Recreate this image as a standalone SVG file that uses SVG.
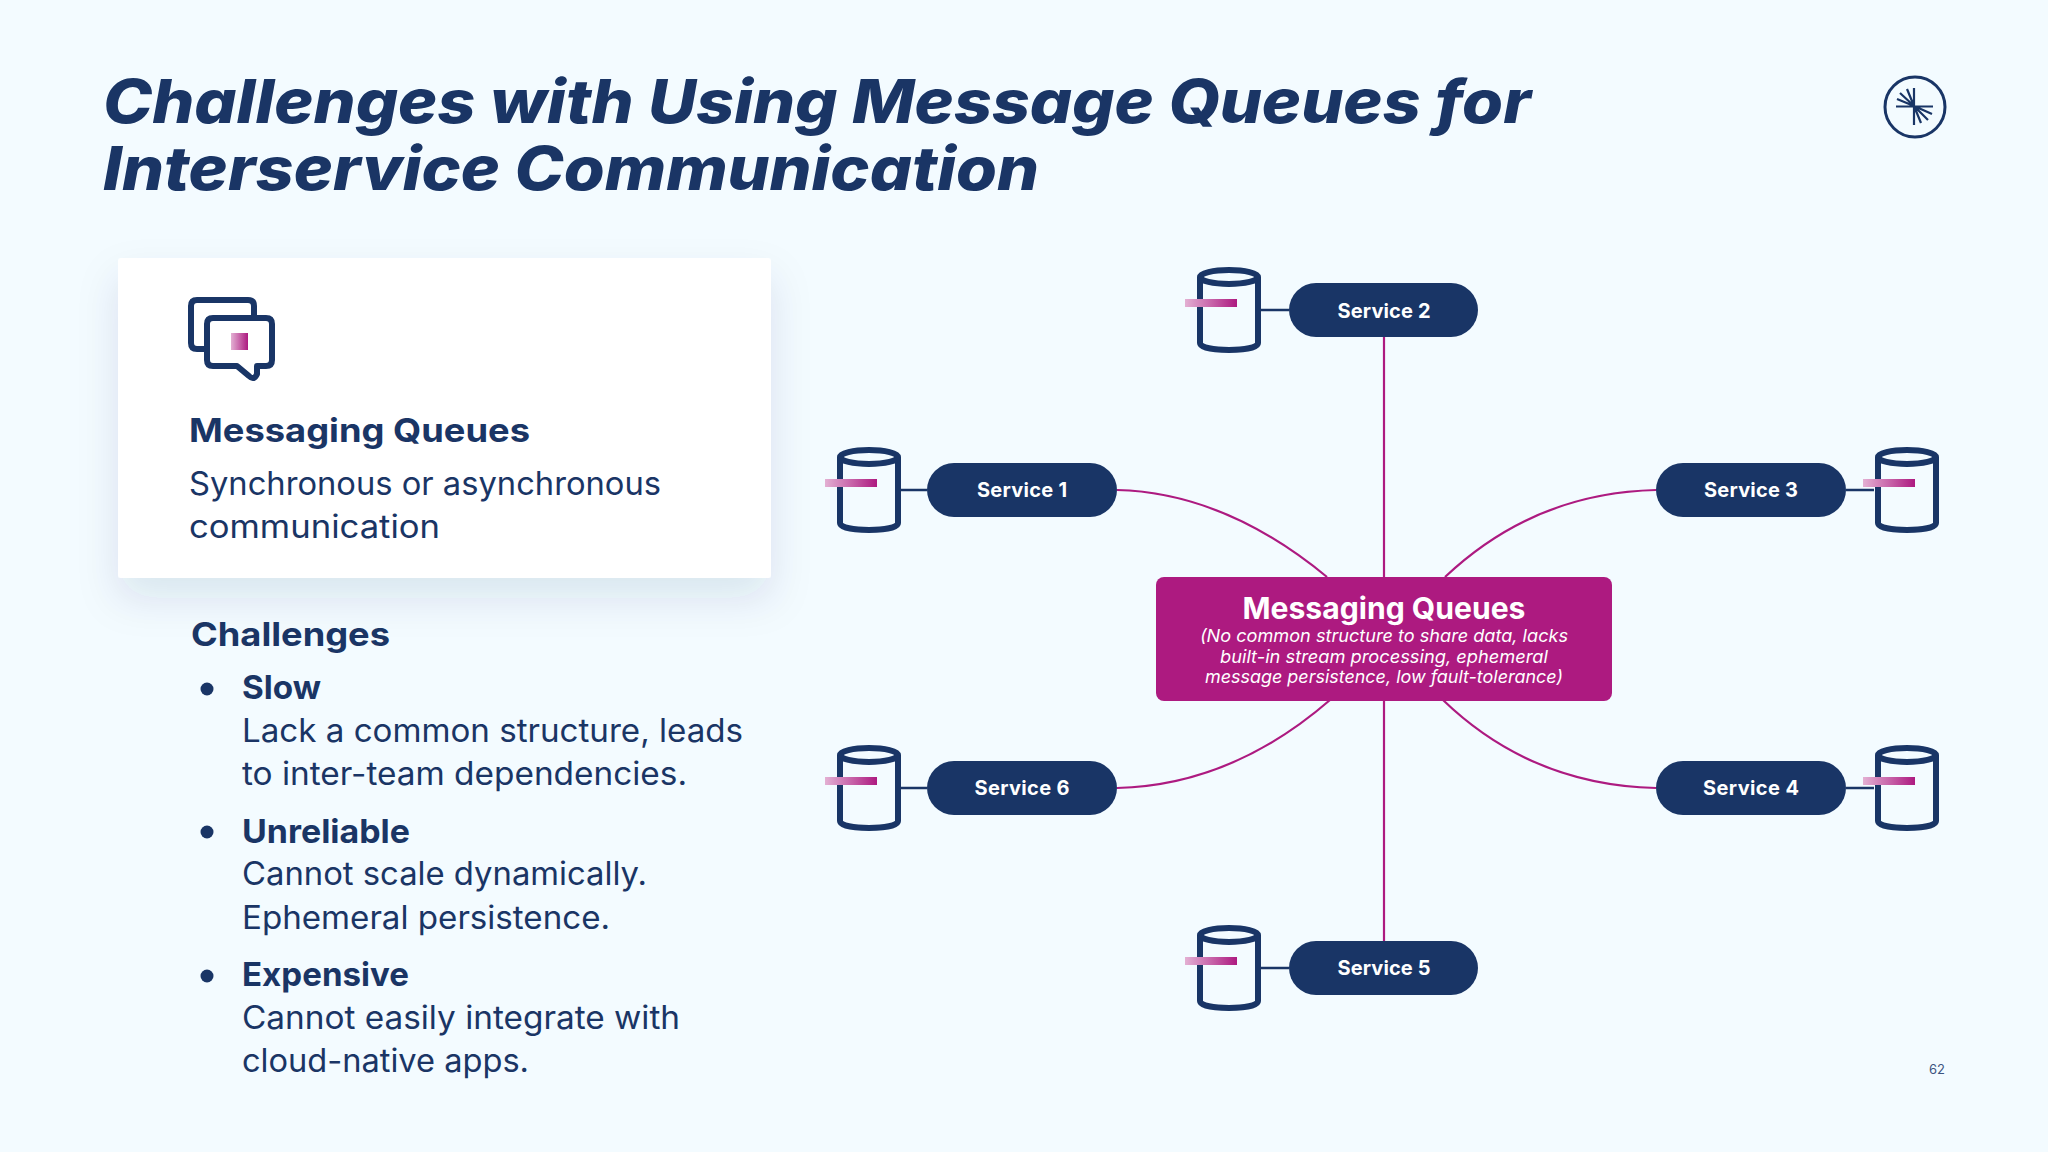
<svg xmlns="http://www.w3.org/2000/svg" width="2048" height="1152" viewBox="0 0 2048 1152">
<style>
text{font-family:"Inter","Liberation Sans",sans-serif;fill:#1a3565}
.t{font-size:60px;font-weight:800;font-style:italic}
.h{font-size:33px;font-weight:700}
.b{font-size:32px;font-weight:400}
.s{font-size:20px;font-weight:700;fill:#fff;text-anchor:middle}
.pill{fill:#193566}
.cn{fill:none;stroke:#ad1a80;stroke-width:2.2}
.st{fill:none;stroke:#193566;stroke-width:2.5}
.cy{fill:none;stroke:#193566;stroke-width:6}
</style>
<defs>
<linearGradient id="g"><stop offset="0" stop-color="#e3b0d3"/><stop offset="1" stop-color="#ad1a80"/></linearGradient>
<filter id="sh" x="-20%" y="-20%" width="140%" height="160%"><feDropShadow dx="0" dy="20" stdDeviation="20" flood-color="#1a3565" flood-opacity=".11"/></filter>
<g id="cyl"><path class="cy" d="M-29-33V33C-29 42.300 29 42.300 29 33V-33"/><ellipse class="cy" cx="0" cy="-33" rx="29" ry="7"/><rect x="-44" y="-11" width="52" height="8" fill="url(#g)"/></g>
</defs>
<rect width="2048" height="1152" fill="#f3fbff"/>
<g id="title"><text class="t" x="103" y="123" textLength="1428" lengthAdjust="spacingAndGlyphs">Challenges with Using Message Queues for</text><text class="t" x="103" y="190" textLength="936" lengthAdjust="spacingAndGlyphs">Interservice Communication</text></g>
<g id="logo" fill="none" stroke="#193566"><circle cx="1915" cy="107" r="30" stroke-width="3"/><path stroke-width="2.2" d="M1896 106.500H1933M1914 88V125M1914 106L1897 99M1914 106L1900 93M1914 106L1907 89M1914 106L1932 114M1914 106L1928 120M1914 106L1921 123"/></g>
<g id="card"><rect x="118" y="258" width="653" height="320" rx="3" fill="#fff" filter="url(#sh)"/>
<g fill="none" stroke="#193566" stroke-width="6" stroke-linejoin="round"><path d="M204 349H197Q191 349 191 343V306Q191 300 197 300H248Q254 300 254 306V318"/><path d="M213 318H266Q272 318 272 324V360Q272 366 266 366H257V374Q254 381 249 376L237 366H213Q207 366 207 360V324Q207 318 213 318Z"/></g>
<rect x="231" y="333" width="17" height="17" fill="url(#g)"/>
<text class="h" x="189" y="442" textLength="341" lengthAdjust="spacingAndGlyphs">Messaging Queues</text>
<text class="b" x="189" y="495" textLength="472" lengthAdjust="spacingAndGlyphs">Synchronous or asynchronous</text>
<text class="b" x="189" y="538" textLength="251" lengthAdjust="spacingAndGlyphs">communication</text></g>
<g id="challenges"><text class="h" x="191" y="646" textLength="199" lengthAdjust="spacingAndGlyphs">Challenges</text>
<g fill="#193566"><circle cx="207" cy="689" r="6.500"/><circle cx="207" cy="832" r="6.500"/><circle cx="207" cy="976" r="6.500"/></g>
<text class="h" x="242" y="699" textLength="79" lengthAdjust="spacingAndGlyphs">Slow</text>
<text class="b" x="242" y="742" textLength="501" lengthAdjust="spacingAndGlyphs">Lack a common structure, leads</text>
<text class="b" x="242" y="785" textLength="445" lengthAdjust="spacingAndGlyphs">to inter-team dependencies.</text>
<text class="h" x="242" y="843" textLength="168" lengthAdjust="spacingAndGlyphs">Unreliable</text>
<text class="b" x="242" y="885" textLength="405" lengthAdjust="spacingAndGlyphs">Cannot scale dynamically.</text>
<text class="b" x="242" y="929" textLength="368" lengthAdjust="spacingAndGlyphs">Ephemeral persistence.</text>
<text class="h" x="242" y="986" textLength="167" lengthAdjust="spacingAndGlyphs">Expensive</text>
<text class="b" x="242" y="1029" textLength="438" lengthAdjust="spacingAndGlyphs">Cannot easily integrate with</text>
<text class="b" x="242" y="1072" textLength="287" lengthAdjust="spacingAndGlyphs">cloud-native apps.</text></g>
<g id="connectors">
<path class="cn" d="M1384 337V577M1384 700V941M1117 490C1200 492 1270 530 1327 577M1656 490C1570 492 1500 525 1445 577M1117 788C1200 786 1270 752 1330 700M1656 788C1570 786 1500 755 1443 700"/>
<path class="st" d="M1261 310H1289M1261 968H1289M900 490H927M900 788H927M1846 490H1874M1846 788H1874"/>
</g>
<g id="mq"><rect x="1156" y="577" width="456" height="124" rx="8" fill="#ad1a80"/>
<text x="1384" y="619" text-anchor="middle" style="fill:#fff;font-size:30px;font-weight:700" textLength="283" lengthAdjust="spacingAndGlyphs">Messaging Queues</text>
<g style="font-size:17.500px;font-style:italic" text-anchor="middle"><text x="1384" y="642" style="fill:#fff" textLength="368" lengthAdjust="spacingAndGlyphs">(No common structure to share data, lacks</text><text x="1384" y="663" style="fill:#fff" textLength="328" lengthAdjust="spacingAndGlyphs">built-in stream processing, ephemeral</text><text x="1384" y="683" style="fill:#fff" textLength="358" lengthAdjust="spacingAndGlyphs">message persistence, low fault-tolerance)</text></g></g>
<g id="service1"><use href="#cyl" x="869" y="490"/><rect class="pill" x="927" y="463" width="190" height="54" rx="27"/><text class="s" x="1022" y="497" textLength="90">Service 1</text></g>
<g id="service2"><use href="#cyl" x="1229" y="310"/><rect class="pill" x="1289" y="283" width="189" height="54" rx="27"/><text class="s" x="1384" y="318" textLength="93">Service 2</text></g>
<g id="service3"><use href="#cyl" x="1907" y="490"/><rect class="pill" x="1656" y="463" width="190" height="54" rx="27"/><text class="s" x="1751" y="497" textLength="94">Service 3</text></g>
<g id="service4"><use href="#cyl" x="1907" y="788"/><rect class="pill" x="1656" y="761" width="190" height="54" rx="27"/><text class="s" x="1751" y="795" textLength="96">Service 4</text></g>
<g id="service5"><use href="#cyl" x="1229" y="968"/><rect class="pill" x="1289" y="941" width="189" height="54" rx="27"/><text class="s" x="1384" y="975" textLength="93">Service 5</text></g>
<g id="service6"><use href="#cyl" x="869" y="788"/><rect class="pill" x="927" y="761" width="190" height="54" rx="27"/><text class="s" x="1022" y="795" textLength="95">Service 6</text></g>
<text id="page" x="1929" y="1074" style="font-size:13px;fill:#3c5580">62</text>
</svg>
